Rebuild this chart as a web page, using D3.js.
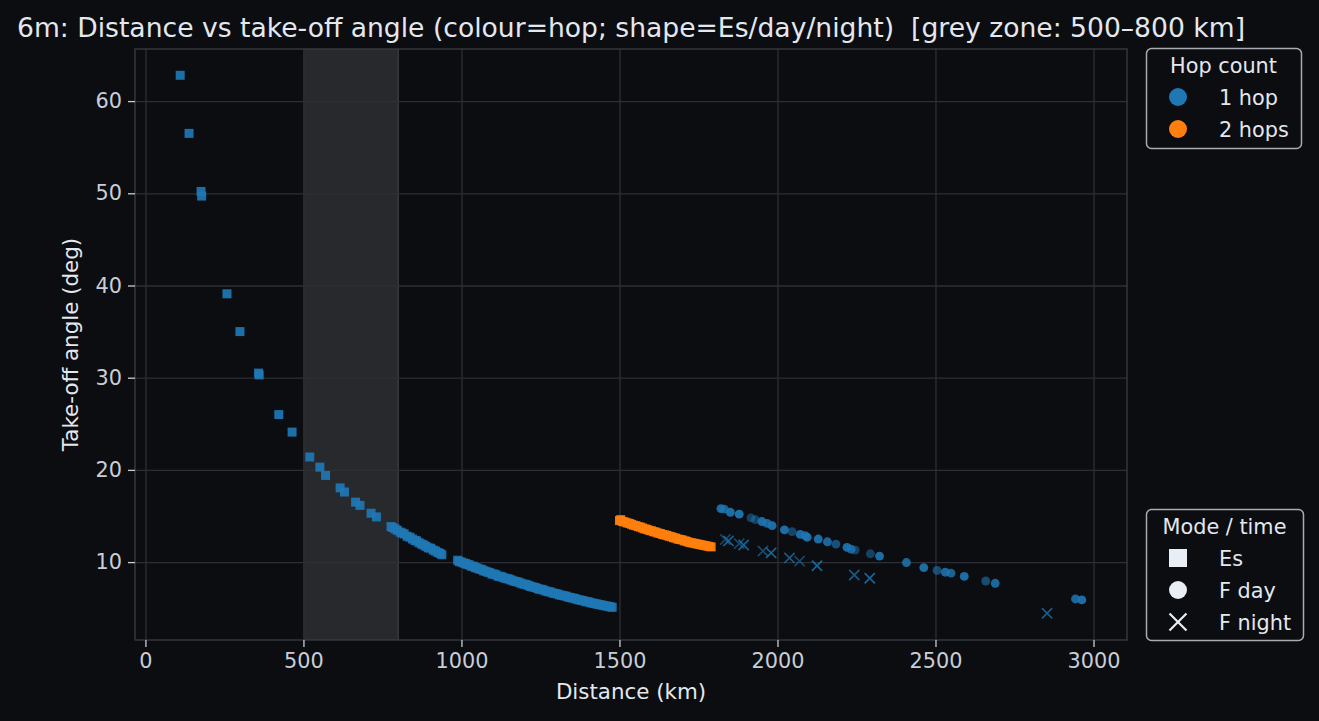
<!DOCTYPE html>
<html>
<head>
<meta charset="utf-8">
<script src="https://cdn.jsdelivr.net/npm/d3@7"></script>
<style>
  html, body { margin: 0; padding: 0; background: #0b0d11; }
  svg { display: block; font-family: "DejaVu Sans", sans-serif; }
</style>
</head>
<body>
<div id="chart"></div>
<script>
// tick labels / categories
const xTicks = [0, 500, 1000, 1500, 2000, 2500, 3000];
const yTicks = [10, 20, 30, 40, 50, 60];
const hopLabels = ["1 hop", "2 hops"];
const modeLabels = ["Es", "F day", "F night"];
const greyZone = [500, 800];

// Es, 1 hop
const es1Dist = [110, 138, 176, 178, 258, 299, 358, 360, 422, 464, 520, 552, 570, 616, 630, 665, 679, 714, 731,
  777, 783, 790, 797, 806, 812, 819, 828, 837, 845, 853, 858, 866, 874, 881, 888, 895, 903, 911, 918, 925, 932, 938,
  988, 993, 1000, 1007, 1013, 1018, 1025, 1031, 1038, 1044, 1050, 1057, 1064, 1070, 1077, 1084, 1090, 1097,
  1104, 1110, 1117, 1124, 1131, 1138, 1145, 1151, 1158, 1165, 1172, 1178, 1185, 1192, 1199, 1206, 1213, 1219,
  1226, 1233, 1240, 1247, 1254, 1261, 1268, 1275, 1282, 1289, 1296, 1303, 1310, 1317, 1324, 1331, 1338, 1345,
  1352, 1359, 1366, 1373, 1380, 1387, 1394, 1401, 1408, 1415, 1422, 1429, 1436, 1443, 1450, 1457, 1464, 1471, 1477];
const es1Angle = [62.8, 56.5, 50.2, 49.7, 39.1, 35.0, 30.5, 30.3, 26.0, 24.1, 21.4, 20.3, 19.4, 18.05, 17.6, 16.5, 16.15, 15.3, 14.9,
  13.85, 13.75, 13.6, 13.45, 13.25, 13.15, 13.05, 12.8, 12.7, 12.5, 12.35, 12.3, 12.1, 11.95, 11.85, 11.7, 11.55, 11.5, 11.3, 11.2, 11.05, 10.95, 10.8,
  10.2, 10.05, 10.0, 9.9, 9.85, 9.75, 9.7, 9.55, 9.55, 9.4, 9.35, 9.25, 9.2, 9.05, 9.0, 8.9, 8.85, 8.7,
  8.7, 8.6, 8.45, 8.45, 8.35, 8.25, 8.2, 8.15, 8.05, 7.95, 7.9, 7.85, 7.75, 7.65, 7.6, 7.55, 7.45, 7.35,
  7.3, 7.25, 7.15, 7.05, 7.05, 6.95, 6.85, 6.8, 6.75, 6.65, 6.6, 6.55, 6.45, 6.4, 6.35, 6.3, 6.2, 6.15,
  6.1, 6.05, 5.95, 5.9, 5.85, 5.8, 5.7, 5.7, 5.6, 5.55, 5.5, 5.45, 5.4, 5.35, 5.3, 5.25, 5.2, 5.15, 5.1];

// Es, 2 hops
const es2Dist = [1500, 1504, 1510, 1517, 1524, 1531, 1538, 1545, 1552, 1559, 1566, 1573, 1580, 1587, 1594,
  1601, 1608, 1615, 1622, 1629, 1636, 1643, 1650, 1657, 1664, 1671, 1678, 1685, 1692, 1699,
  1706, 1713, 1720, 1727, 1734, 1741, 1748, 1755, 1762, 1769, 1776, 1783, 1790];
const es2Angle = [14.5, 14.6, 14.4, 14.35, 14.25, 14.2, 14.1, 14.0, 13.95, 13.85, 13.8, 13.7, 13.6, 13.55, 13.45,
  13.4, 13.3, 13.25, 13.15, 13.1, 13.0, 12.95, 12.9, 12.8, 12.75, 12.65, 12.6, 12.5, 12.45, 12.4,
  12.3, 12.25, 12.15, 12.1, 12.05, 12.0, 11.95, 11.9, 11.85, 11.8, 11.75, 11.7, 11.65];

// F layer, day (1 hop)
const fDayDist = [1821, 1832, 1851, 1879, 1916, 1930, 1951, 1967, 1983, 2022, 2046, 2072, 2088, 2094, 2129, 2158,
  2185, 2220, 2233, 2246, 2294, 2323, 2408, 2463, 2505, 2531, 2549, 2591, 2659, 2689, 2943, 2963];
const fDayAngle = [15.8, 15.75, 15.4, 15.2, 14.8, 14.6, 14.4, 14.2, 13.95, 13.5, 13.3, 13.0, 12.85, 12.7, 12.5, 12.2,
  11.95, 11.6, 11.4, 11.3, 10.9, 10.65, 9.95, 9.4, 9.1, 8.9, 8.8, 8.45, 7.95, 7.7, 6.0, 5.9];
const fDayWeight = [0.9, 0.8, 0.9, 0.95, 0.5, 0.5, 0.9, 0.85, 0.9, 0.9, 0.55, 0.9, 0.8, 0.9, 0.9, 0.85,
  0.65, 0.9, 0.8, 0.5, 0.5, 0.9, 0.85, 0.9, 0.6, 0.85, 0.8, 0.9, 0.6, 0.85, 0.85, 0.9];

// F layer, night (1 hop)
const fNightDist = [1835, 1845, 1879, 1893, 1954, 1980, 2038, 2070, 2125, 2243, 2292, 2853];
const fNightAngle = [12.45, 12.3, 12.0, 11.85, 11.2, 11.0, 10.45, 10.1, 9.6, 8.6, 8.25, 4.45];
const fNightWeight = [0.55, 0.85, 0.6, 0.8, 0.6, 0.85, 0.75, 0.6, 0.85, 0.75, 0.85, 0.75];

const W = 1319, H = 721;
const plot = { left: 135, right: 1127, top: 49, bottom: 640 };
const bg = "#0b0d11";
const hopColor = d3.scaleOrdinal().domain([1, 2]).range(["#1f77b4", "#ff7f0e"]);
const shapeOf = { "Es": d3.symbolSquare, "F day": d3.symbolCircle, "F night": d3.symbolX };
const sizeOf = { "Es": 81, "F day": 62, "F night": 70 };

const points = [];
es1Dist.forEach((d, i) => points.push({ dist: d, angle: es1Angle[i], hop: 1, mode: "Es", w: 0.92 }));
es2Dist.forEach((d, i) => points.push({ dist: d, angle: es2Angle[i], hop: 2, mode: "Es", w: 0.95 }));
fDayDist.forEach((d, i) => points.push({ dist: d, angle: fDayAngle[i], hop: 1, mode: "F day", w: fDayWeight[i] }));
fNightDist.forEach((d, i) => points.push({ dist: d, angle: fNightAngle[i], hop: 1, mode: "F night", w: fNightWeight[i] }));

const x = d3.scaleLinear().domain([-33, 3106]).range([plot.left, plot.right]);
const y = d3.scaleLinear().domain([1.55, 65.65]).range([plot.bottom, plot.top]);

const svg = d3.select("#chart").append("svg")
  .attr("width", W).attr("height", H)
  .attr("viewBox", [0, 0, W, H]);

svg.append("rect").attr("width", W).attr("height", H).attr("fill", bg);

// grey zone
svg.append("rect")
  .attr("x", x(greyZone[0])).attr("y", plot.top)
  .attr("width", x(greyZone[1]) - x(greyZone[0]))
  .attr("height", plot.bottom - plot.top)
  .attr("fill", "#28292d");
svg.append("line")
  .attr("x1", x(greyZone[1])).attr("x2", x(greyZone[1]))
  .attr("y1", plot.top).attr("y2", plot.bottom)
  .attr("stroke", "#3b3c40").attr("stroke-width", 1.3);

// grid
svg.append("g")
  .attr("transform", `translate(0,${plot.bottom})`)
  .call(d3.axisBottom(x).tickValues(xTicks).tickSize(-(plot.bottom - plot.top)).tickFormat(""))
  .call(g => g.select(".domain").remove())
  .call(g => g.selectAll("line").attr("stroke", "#2c2f35").attr("stroke-width", 1.3));
svg.append("g")
  .attr("transform", `translate(${plot.left},0)`)
  .call(d3.axisLeft(y).tickValues(yTicks).tickSize(-(plot.right - plot.left)).tickFormat(""))
  .call(g => g.select(".domain").remove())
  .call(g => g.selectAll("line").attr("stroke", "#2c2f35").attr("stroke-width", 1.3));

// frame
svg.append("rect")
  .attr("x", plot.left).attr("y", plot.top)
  .attr("width", plot.right - plot.left).attr("height", plot.bottom - plot.top)
  .attr("fill", "none").attr("stroke", "#3a3d44").attr("stroke-width", 1.3);

// axes
const tickCol = "#c9ced6";
svg.append("g")
  .attr("transform", `translate(0,${plot.bottom})`)
  .call(d3.axisBottom(x).tickValues(xTicks).tickSize(7).tickPadding(6).tickFormat(d3.format("d")))
  .call(g => g.select(".domain").remove())
  .call(g => g.selectAll("line").attr("stroke", tickCol).attr("stroke-width", 1.3))
  .call(g => g.selectAll("text").attr("fill", tickCol).attr("font-size", 20.8).attr("font-family", "DejaVu Sans"));
svg.append("g")
  .attr("transform", `translate(${plot.left},0)`)
  .call(d3.axisLeft(y).tickValues(yTicks).tickSize(7).tickPadding(6).tickFormat(d3.format("d")))
  .call(g => g.select(".domain").remove())
  .call(g => g.selectAll("line").attr("stroke", tickCol).attr("stroke-width", 1.3))
  .call(g => g.selectAll("text").attr("fill", tickCol).attr("font-size", 20.8).attr("font-family", "DejaVu Sans"));

// points
const symbolPath = d => d3.symbol().type(shapeOf[d.mode]).size(sizeOf[d.mode])();
svg.append("g")
  .selectAll("path")
  .data(points)
  .join("path")
    .attr("transform", d => `translate(${x(d.dist)},${y(d.angle)})`)
    .attr("d", symbolPath)
    .attr("fill", d => d.mode === "F night" ? "none" : hopColor(d.hop))
    .attr("stroke", d => d.mode === "F night" ? hopColor(d.hop) : "none")
    .attr("stroke-width", 1.6)
    .attr("opacity", d => d.w);

// labels
const textCol = "#e4e8ee";
svg.append("text")
  .attr("x", (plot.left + plot.right) / 2).attr("y", 37)
  .attr("text-anchor", "middle").attr("fill", textCol).attr("font-size", 26.6)
  .attr("xml:space", "preserve")
  .style("white-space", "pre")
  .text("6m: Distance vs take-off angle (colour=hop; shape=Es/day/night)  [grey zone: 500\u2013800 km]");
svg.append("text")
  .attr("x", (plot.left + plot.right) / 2).attr("y", 699)
  .attr("text-anchor", "middle").attr("fill", textCol).attr("font-size", 21.4)
  .text("Distance (km)");
svg.append("text")
  .attr("transform", `translate(78,${(plot.top + plot.bottom) / 2}) rotate(-90)`)
  .attr("text-anchor", "middle").attr("fill", textCol).attr("font-size", 21.4)
  .text("Take-off angle (deg)");

// legends
function legend(top, width, height, title, items) {
  const g = svg.append("g").attr("transform", `translate(1146,${top})`);
  g.append("rect").attr("x", 0.5).attr("y", 0.5).attr("width", width).attr("height", height)
    .attr("rx", 5).attr("fill", bg).attr("stroke", "#a9adb3").attr("stroke-width", 1.5);
  g.append("text").attr("x", width / 2).attr("y", 25).attr("text-anchor", "middle")
    .attr("fill", textCol).attr("font-size", 20.8).text(title);
  const row = g.selectAll("g.item").data(items).join("g")
    .attr("class", "item")
    .attr("transform", (d, i) => `translate(32,${49 + i * 32})`);
  row.append("path")
    .attr("d", d => d3.symbol().type(d.shape).size(d.size)())
    .attr("fill", d => d.stroke ? "none" : d.color)
    .attr("stroke", d => d.stroke ? d.color : "none")
    .attr("stroke-width", 2.2);
  row.append("text").attr("x", 41).attr("y", 8)
    .attr("fill", textCol).attr("font-size", 20.8).text(d => d.label);
}

legend(48, 155, 100, "Hop count",
  hopLabels.map((l, i) => ({ label: l, shape: d3.symbolCircle, size: 254, color: hopColor(i + 1) })));
legend(509, 157, 131, "Mode / time",
  modeLabels.map(l => ({ label: l, shape: shapeOf[l], size: l === "Es" ? 324 : (l === "F day" ? 254 : 190),
    color: "#e8eef5", stroke: l === "F night" })));
</script>
</body>
</html>
